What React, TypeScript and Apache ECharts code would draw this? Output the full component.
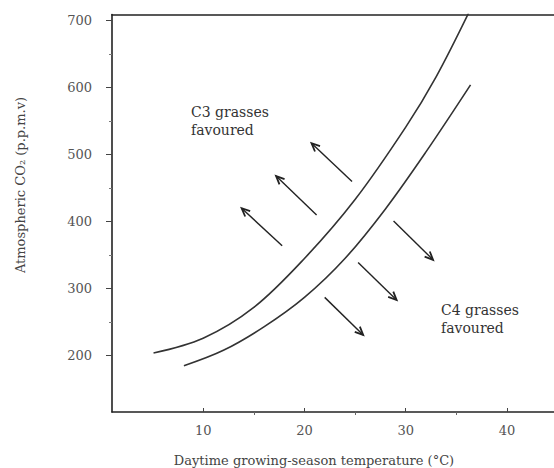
import React, { useEffect, useRef } from "react";
import * as echarts from "echarts";

// Boundary curves (temperature °C, CO2 p.p.m.v)
const upperCurve: [number, number][] = [
  [5.1, 204], [10, 226], [15, 272], [20, 345], [25, 433], [30, 541], [33, 616], [36.2, 711],
];
const lowerCurve: [number, number][] = [
  [8.1, 185], [12, 208], [16, 243], [20, 287], [24, 345], [28, 419], [32, 504], [36.4, 604],
];
// Arrows: [x tail, y tail, x head, y head]
const c3Arrows: number[][] = [
  [24.7, 460, 20.7, 517],
  [21.2, 410, 17.2, 468],
  [17.8, 364, 13.8, 420],
];
const c4Arrows: number[][] = [
  [28.8, 401, 32.7, 343],
  [25.3, 339, 29.1, 283],
  [22.0, 287, 25.8, 231],
];
const xMajorTicks = [10, 20, 30, 40];
const xMinorTicks = [15, 25, 35];
const yMajorTicks = [200, 300, 400, 500, 600, 700];
const yMinorTicks = [250, 350, 450, 550, 650];

const FONT = "DejaVu Serif";
const FRAME = { show: true, lineStyle: { color: "#222", width: 1.6 } };

export default function App() {
  const ref = useRef<HTMLDivElement>(null);
  useEffect(() => {
    if (!ref.current) return;
    const chart = echarts.init(ref.current, undefined, { renderer: "svg" });
    const arrowRender = (params: any, api: any) => {
      const p1 = api.coord([api.value(0), api.value(1)]);
      const p2 = api.coord([api.value(2), api.value(3)]);
      const ang = Math.atan2(p2[1] - p1[1], p2[0] - p1[0]);
      const L = 9;
      const a = 0.42;
      const w1 = [p2[0] - L * Math.cos(ang - a), p2[1] - L * Math.sin(ang - a)];
      const w2 = [p2[0] - L * Math.cos(ang + a), p2[1] - L * Math.sin(ang + a)];
      return {
        type: "group",
        children: [
          {
            type: "line",
            shape: { x1: p1[0], y1: p1[1], x2: p2[0], y2: p2[1] },
            style: { stroke: "#222", lineWidth: 1.4 },
          },
          {
            type: "polyline",
            shape: { points: [w1, p2, w2] },
            style: { stroke: "#222", lineWidth: 1.8, fill: "none" },
          },
        ],
      };
    };
    const common = { min: 1, max: 44.64, type: "value" as const };
    chart.setOption({
      animation: false,
      backgroundColor: "#fff",
      grid: {
        left: 112,
        top: 14.5,
        right: 0,
        height: 397.5,
        show: false,
        containLabel: false,
      },
      xAxis: [
        {
          ...common,
          position: "bottom",
          axisLine: FRAME,
          splitLine: { show: false },
          axisTick: { show: true, inside: true, length: 4, customValues: xMajorTicks, lineStyle: { color: "#444" } },
          axisLabel: {
            show: true,
            customValues: xMajorTicks,
            margin: 12,
            color: "#555",
            fontFamily: FONT,
            fontSize: 13,
          },
        },
        {
          ...common,
          position: "bottom",
          axisLine: { show: false },
          splitLine: { show: false },
          axisTick: { show: true, length: 3, customValues: xMinorTicks, lineStyle: { color: "#666" } },
          axisLabel: { show: false },
        },
        {
          ...common,
          position: "top",
          axisLine: FRAME,
          splitLine: { show: false },
          axisTick: { show: false },
          axisLabel: { show: false },
        },
      ],
      yAxis: [
        {
          type: "value",
          min: 116,
          max: 709,
          position: "left",
          axisLine: FRAME,
          splitLine: { show: false },
          axisTick: { show: true, length: 6, customValues: yMajorTicks, lineStyle: { color: "#444" } },
          axisLabel: {
            show: true,
            customValues: yMajorTicks,
            margin: 20,
            color: "#555",
            fontFamily: FONT,
            fontSize: 13,
          },
        },
        {
          type: "value",
          min: 116,
          max: 709,
          position: "left",
          axisLine: { show: false },
          splitLine: { show: false },
          axisTick: { show: true, length: 3, customValues: yMinorTicks, lineStyle: { color: "#777" } },
          axisLabel: { show: false },
        },
      ],
      series: [
        {
          type: "line",
          name: "upper",
          data: upperCurve,
          smooth: 0.35,
          showSymbol: false,
          clip: true,
          lineStyle: { color: "#333", width: 1.6 },
        },
        {
          type: "line",
          name: "lower",
          data: lowerCurve,
          smooth: 0.35,
          showSymbol: false,
          clip: true,
          lineStyle: { color: "#333", width: 1.6 },
        },
        {
          type: "custom",
          name: "C3 arrows",
          renderItem: arrowRender,
          encode: { x: [0, 2], y: [1, 3] },
          data: c3Arrows,
        },
        {
          type: "custom",
          name: "C4 arrows",
          renderItem: arrowRender,
          encode: { x: [0, 2], y: [1, 3] },
          data: c4Arrows,
        },
      ],
      graphic: [
        {
          type: "text",
          left: 191,
          top: 103,
          style: {
            text: "C3 grasses\nfavoured",
            font: `14px '${FONT}'`,
            fill: "#333",
            lineHeight: 18,
          },
        },
        {
          type: "text",
          left: 441,
          top: 301,
          style: {
            text: "C4 grasses\nfavoured",
            font: `14px '${FONT}'`,
            fill: "#333",
            lineHeight: 18,
          },
        },
        {
          type: "text",
          x: 314,
          y: 460,
          style: {
            text: "Daytime growing-season temperature (°C)",
            font: `13px '${FONT}'`,
            fill: "#444",
            textAlign: "center",
            textVerticalAlign: "middle",
          },
        },
        {
          type: "text",
          x: 20,
          y: 185,
          rotation: Math.PI / 2,
          style: {
            text: "Atmospheric CO₂ (p.p.m.v)",
            font: `13px '${FONT}'`,
            fill: "#444",
            textAlign: "center",
            textVerticalAlign: "middle",
          },
        },
      ],
    });
    return () => chart.dispose();
  }, []);
  return (
    <div
      ref={ref}
      style={{ position: "absolute", left: 0, top: 0, width: 554, height: 468, background: "#fff" }}
    />
  );
}
